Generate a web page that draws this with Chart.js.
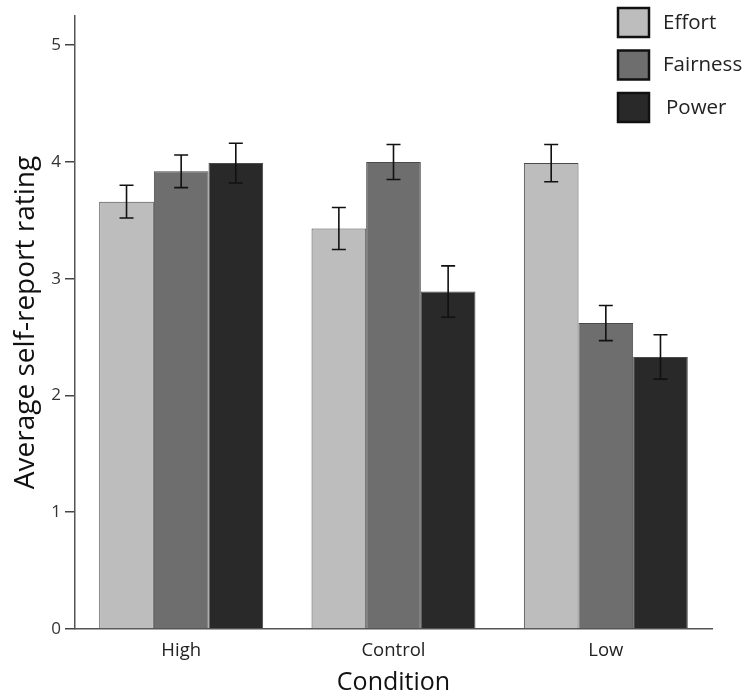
<!DOCTYPE html>
<html>
<head>
<meta charset="utf-8">
<script src="https://cdn.jsdelivr.net/npm/chart.js@4.4.1/dist/chart.umd.min.js"></script>
<style>
  html, body { margin: 0; padding: 0; background: #fff; }
  #wrap { width: 747px; height: 695px; }
</style>
</head>
<body>
<div id="wrap"><canvas id="chart" width="747" height="695"></canvas></div>
<script>
// values (means and +/- error)
const conditions = ['High', 'Control', 'Low'];
const seriesNames = ['Effort', 'Fairness', 'Power'];
const effortMeans = [3.66, 3.43, 3.99];
const fairnessMeans = [3.92, 4.00, 2.62];
const powerMeans = [3.99, 2.89, 2.33];
const effortErr = [0.14, 0.18, 0.16];
const fairnessErr = [0.14, 0.15, 0.15];
const powerErr = [0.17, 0.22, 0.19];
const yTickValues = [0, 1, 2, 3, 4, 5];

const fills = ['#bdbdbd', '#6e6e6e', '#292929'];
const FONT = "'Open Sans', 'DejaVu Sans', sans-serif";

Chart.defaults.font.family = FONT;
Chart.defaults.color = '#222';

// draws the +/- error whiskers on top of each bar
const errorBars = {
  id: 'errorBars',
  afterDatasetsDraw(chart) {
    const ctx = chart.ctx;
    const y = chart.scales.y;
    ctx.save();
    ctx.strokeStyle = '#111';
    ctx.lineWidth = 1.6;
    chart.data.datasets.forEach((ds, i) => {
      const meta = chart.getDatasetMeta(i);
      meta.data.forEach((bar, j) => {
        const v = ds.data[j], e = ds.errors[j];
        const top = y.getPixelForValue(v + e);
        const bot = y.getPixelForValue(v - e);
        const cap = 7;
        ctx.beginPath();
        ctx.moveTo(bar.x, top); ctx.lineTo(bar.x, bot);
        ctx.moveTo(bar.x - cap, top); ctx.lineTo(bar.x + cap, top);
        ctx.moveTo(bar.x - cap, bot); ctx.lineTo(bar.x + cap, bot);
        ctx.stroke();
      });
    });
    ctx.restore();
  }
};

// legend stacked in the top right corner, over the plot
const cornerLegend = {
  id: 'cornerLegend',
  afterDraw(chart) {
    const ctx = chart.ctx;
    ctx.save();
    ctx.font = '20.5px ' + FONT;
    ctx.textBaseline = 'middle';
    chart.data.datasets.forEach((ds, i) => {
      const bx = 618, by = 8 + i * 42.5;
      ctx.fillStyle = ds.backgroundColor;
      ctx.fillRect(bx, by, 31, 29);
      ctx.strokeStyle = '#111';
      ctx.lineWidth = 2.5;
      ctx.strokeRect(bx, by, 31, 29);
      ctx.fillStyle = '#222';
      ctx.fillText(ds.label, 663 + (i === 2 ? 3 : 0), by + 15);
    });
    ctx.restore();
  }
};

const datasets = [
  { label: seriesNames[0], data: effortMeans, errors: effortErr, backgroundColor: fills[0] },
  { label: seriesNames[1], data: fairnessMeans, errors: fairnessErr, backgroundColor: fills[1] },
  { label: seriesNames[2], data: powerMeans, errors: powerErr, backgroundColor: fills[2] }
].map(d => Object.assign(d, {
  borderColor: '#4a4a4a',
  borderWidth: 1,
  categoryPercentage: 0.772,
  barPercentage: 1.0
}));

new Chart(document.getElementById('chart'), {
  type: 'bar',
  data: { labels: conditions, datasets: datasets },
  options: {
    responsive: false,
    animation: false,
    layout: { padding: { left: 0, top: 16, right: 35, bottom: 0 } },
    plugins: { legend: { display: false }, tooltip: { enabled: false } },
    scales: {
      x: {
        grid: { display: false },
        border: { display: true, color: '#555', width: 1.5 },
        ticks: { font: { size: 18.5 }, color: '#222', padding: 3 },
        title: { display: true, text: 'Condition', font: { size: 25 }, color: '#111', padding: { top: 0, bottom: -3 } },
        afterFit: s => { s.height = 66; }
      },
      y: {
        min: 0,
        max: 5.25,
        afterBuildTicks: s => { s.ticks = yTickValues.map(v => ({ value: v })); },
        grid: { drawOnChartArea: false, drawTicks: true, tickLength: 10, color: '#444', lineWidth: 1.5 },
        border: { display: true, color: '#555', width: 1.5 },
        ticks: { font: { size: 17 }, color: '#333', padding: 4 },
        title: { display: true, text: 'Average self-report rating', font: { size: 28 }, color: '#111', padding: { top: 9, bottom: 0 } },
        afterFit: s => { s.width = 75; }
      }
    }
  },
  plugins: [errorBars, cornerLegend]
});
</script>
</body>
</html>
